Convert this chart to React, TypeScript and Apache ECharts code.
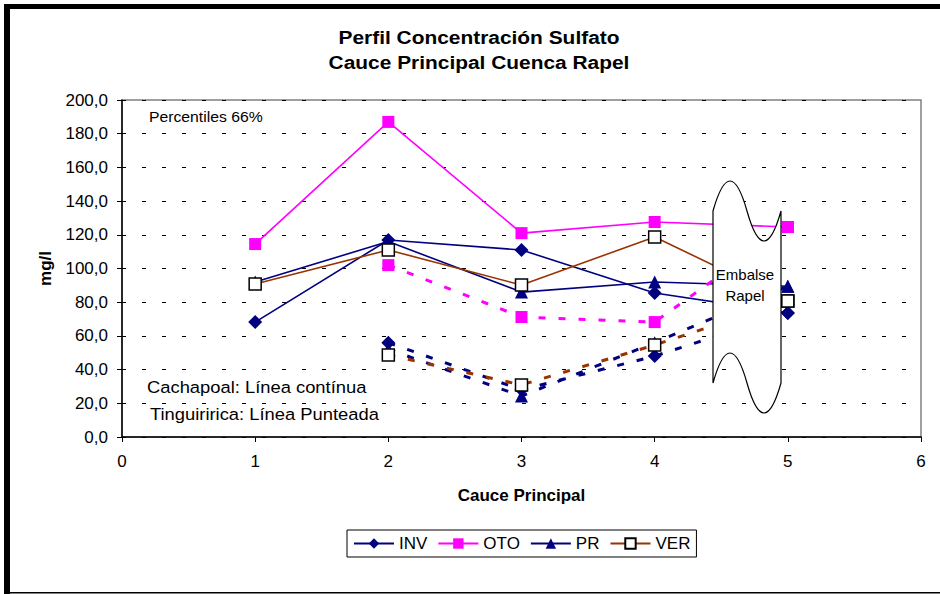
import React, { useEffect, useRef } from "react";
import * as echarts from "echarts";

const X_VALUES = [1, 2, 3, 4, 5];
const SERIES_NAMES = ["INV", "OTO", "PR", "VER"];
// Cachapoal (solid lines)
const INV_CACHAPOAL = [68.2, 116.9, 111.0, 85.5, 73.6];
const OTO_CACHAPOAL = [114.5, 187.0, 121.0, 127.6, 124.6];
const PR_CACHAPOAL = [92.0, 116.0, 86.0, 92.0, 89.5];
const VER_CACHAPOAL = [90.8, 111.0, 90.2, 118.7, 80.7];
// Tinguiririca (dashed lines)
const INV_TINGUIRIRICA = [null, 56.0, 28.0, 48.0, 73.6];
const OTO_TINGUIRIRICA = [null, 102.0, 71.2, 68.2, 124.6];
const PR_TINGUIRIRICA = [null, 52.0, 24.3, 56.0, 89.5];
const VER_TINGUIRIRICA = [null, 48.7, 30.9, 54.6, 80.7];

const FONT = "'Liberation Sans', Arial, sans-serif";
const NAVY = "#000080";
const MAGENTA = "#FF00FF";
const BROWN = "#993300";

const EMBALSE_PATH =
  "M0,0 C11.3,-40 22.7,-40 34,0 C45.3,40 56.7,40 68,0 L68,172 C56.7,212 45.3,212 34,172 C22.7,132 11.3,132 0,172 Z";

let registered = false;

function pairs(values: (number | null)[]) {
  const out: [number, number][] = [];
  values.forEach((v, i) => {
    if (v !== null) out.push([X_VALUES[i], v]);
  });
  return out;
}

const STYLES: Record<string, any> = {
  INV: { symbol: "diamond", symbolSize: 14, color: NAVY, line: NAVY, border: NAVY },
  OTO: { symbol: "rect", symbolSize: 12, color: MAGENTA, line: MAGENTA, border: MAGENTA },
  PR: { symbol: "triangle", symbolSize: 13, color: NAVY, line: NAVY, border: NAVY },
  VER: { symbol: "rect", symbolSize: 12, color: "#FFFFFF", line: BROWN, border: "#000000" },
};

function makeSeries(name: string, values: (number | null)[], dashed: boolean) {
  const s = STYLES[name];
  return {
    type: "line",
    name,
    data: pairs(values),
    symbol: s.symbol,
    symbolSize: s.symbolSize,
    showAllSymbol: true,
    itemStyle: { color: s.color, borderColor: s.border, borderWidth: name === "VER" ? 1.5 : 0, opacity: 1 },
    lineStyle: dashed
      ? { color: s.line, width: 3, type: [7, 13] }
      : { color: s.line, width: 1.6, type: "solid" },
    emphasis: { disabled: true },
  };
}

export default function App() {
  const ref = useRef<HTMLDivElement>(null);
  useEffect(() => {
    document.body.style.margin = "0";
    if (!registered) {
      echarts.graphic.registerShape("embalse", echarts.graphic.extendPath(EMBALSE_PATH, {}) as any);
      registered = true;
    }
    const chart = echarts.init(ref.current!, null, { renderer: "svg" });
    const option: any = {
      animation: false,
      backgroundColor: "#FFFFFF",
      textStyle: { fontFamily: FONT },
      grid: {
        left: 122,
        top: 100,
        right: 19,
        bottom: 157,
        show: true,
        borderColor: "#808080",
        borderWidth: 1.5,
        backgroundColor: "transparent",
      },
      xAxis: {
        type: "value",
        min: 0,
        max: 6,
        interval: 1,
        name: "Cauce Principal",
        nameLocation: "middle",
        nameGap: 50,
        nameTextStyle: { fontSize: 17, fontWeight: "bold", color: "#000", fontFamily: FONT },
        axisLine: { show: true, onZero: false, lineStyle: { color: "#000", width: 1.5 } },
        axisTick: { show: true, inside: false, length: 5, lineStyle: { color: "#000", width: 1 } },
        axisLabel: { fontSize: 17, color: "#000", margin: 16, fontFamily: FONT },
        splitLine: { show: false },
      },
      yAxis: {
        type: "value",
        min: 0,
        max: 200,
        interval: 20,
        name: "mg/l",
        nameLocation: "middle",
        nameRotate: 90,
        nameGap: 68,
        nameTextStyle: { fontSize: 17, fontWeight: "bold", color: "#000", fontFamily: FONT },
        axisLine: { show: true, lineStyle: { color: "#000", width: 1.5 } },
        axisTick: { show: true, inside: false, length: 5, lineStyle: { color: "#000", width: 1 } },
        axisLabel: {
          fontSize: 17,
          color: "#000",
          margin: 14,
          fontFamily: FONT,
          formatter: (v: number) => v.toFixed(1).replace(".", ","),
        },
        splitLine: { show: true, lineStyle: { color: "#000", width: 1, type: [4, 16] } },
      },
      legend: {
        data: SERIES_NAMES,
        left: 347,
        top: 530,
        itemWidth: 40,
        itemHeight: 13,
        itemGap: 10,
        borderColor: "#000",
        borderWidth: 1,
        borderRadius: 0,
        padding: [5, 6],
        textStyle: { fontSize: 17, color: "#000", fontFamily: FONT },
        selectedMode: false,
      },
      series: [
        makeSeries("INV", INV_CACHAPOAL, false),
        makeSeries("OTO", OTO_CACHAPOAL, false),
        makeSeries("PR", PR_CACHAPOAL, false),
        makeSeries("VER", VER_CACHAPOAL, false),
        makeSeries("INV", INV_TINGUIRIRICA, true),
        makeSeries("OTO", OTO_TINGUIRIRICA, true),
        makeSeries("PR", PR_TINGUIRIRICA, true),
        makeSeries("VER", VER_TINGUIRIRICA, true),
      ],
      graphic: [
        { type: "rect", x: 4, y: 4, shape: { width: 936, height: 5 }, style: { fill: "#000" }, z: 200 },
        { type: "rect", x: 4, y: 4, shape: { width: 6, height: 590 }, style: { fill: "#000" }, z: 200 },
        { type: "rect", x: 4, y: 592, shape: { width: 936, height: 1.5 }, style: { fill: "#000" }, z: 200 },
        {
          type: "text",
          x: 479,
          y: 37,
          scaleX: 1.1,
          style: {
            text: "Perfil Concentración Sulfato",
            font: `bold 19px ${FONT}`,
            fill: "#000",
            textAlign: "center",
            textVerticalAlign: "middle",
          },
          z: 200,
        },
        {
          type: "text",
          x: 479,
          y: 62,
          scaleX: 1.1,
          style: {
            text: "Cauce Principal Cuenca Rapel",
            font: `bold 19px ${FONT}`,
            fill: "#000",
            textAlign: "center",
            textVerticalAlign: "middle",
          },
          z: 200,
        },
        {
          type: "text",
          x: 149,
          y: 117,
          scaleX: 1.05,
          style: { text: "Percentiles 66%", font: `15px ${FONT}`, fill: "#000", textVerticalAlign: "middle" },
          z: 200,
        },
        {
          type: "text",
          x: 147,
          y: 387,
          scaleX: 1.08,
          style: { text: "Cachapoal: Línea contínua", font: `17px ${FONT}`, fill: "#000", textVerticalAlign: "middle" },
          z: 200,
        },
        {
          type: "text",
          x: 150,
          y: 414,
          scaleX: 1.08,
          style: { text: "Tinguiririca: Línea Punteada", font: `17px ${FONT}`, fill: "#000", textVerticalAlign: "middle" },
          z: 200,
        },
        {
          type: "embalse",
          x: 713,
          y: 211,
          style: { fill: "#FFFFFF", stroke: "#000", lineWidth: 1.2 },
          z: 150,
        },
        {
          type: "text",
          x: 745,
          y: 274,
          style: { text: "Embalse", font: `15px ${FONT}`, fill: "#000", textAlign: "center", textVerticalAlign: "middle" },
          z: 160,
        },
        {
          type: "text",
          x: 745,
          y: 295,
          style: { text: "Rapel", font: `15px ${FONT}`, fill: "#000", textAlign: "center", textVerticalAlign: "middle" },
          z: 160,
        },
      ],
    };
    chart.setOption(option);
    return () => chart.dispose();
  }, []);
  return <div ref={ref} style={{ width: 940, height: 594 }} />;
}
